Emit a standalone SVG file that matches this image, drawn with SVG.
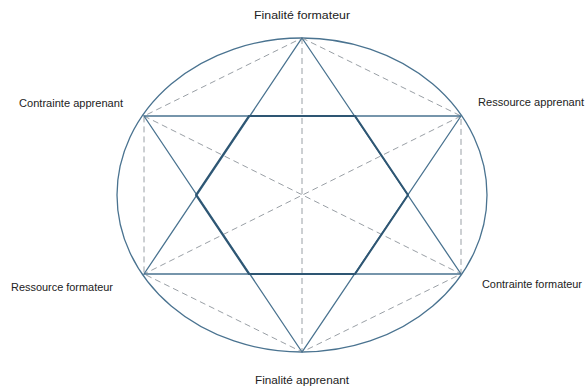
<svg xmlns="http://www.w3.org/2000/svg" width="585" height="392" viewBox="0 0 585 392">
<style>
.solid{fill:none;stroke:#4a7390;stroke-width:1.3}
.hex{fill:none;stroke:#2e5673;stroke-width:2}
.dash{fill:none;stroke:#9aa0a6;stroke-width:1;stroke-dasharray:6 4}
.lbl{font-family:"Liberation Sans","DejaVu Sans",sans-serif;font-size:10px;fill:#222}
</style>
<rect width="585" height="392" fill="#fff"/>
<g id="connectors">
<ellipse class="solid" cx="302" cy="195" rx="185" ry="157"/>
<polygon class="dash" points="302,38 461,116 461,274 302,352 144,274 144,116"/>
<line class="dash" x1="302" y1="38" x2="302" y2="352"/>
<line class="dash" x1="144" y1="116" x2="461" y2="274"/>
<line class="dash" x1="461" y1="116" x2="144" y2="274"/>
<polygon class="solid" points="302,38 461,274 144,274"/>
<polygon class="solid" points="302,352 144,116 461,116"/>
<polygon class="hex" points="249,116 355,116 408,195 355,274 249,274 196,195"/>
</g>
<g id="n-finalite-formateur"><text class="lbl" x="302" y="19" text-anchor="middle" textLength="96" lengthAdjust="spacingAndGlyphs">Finalité formateur</text></g>
<g id="n-contrainte-apprenant"><text class="lbl" x="19" y="107" textLength="104" lengthAdjust="spacingAndGlyphs">Contrainte apprenant</text></g>
<g id="n-ressource-apprenant"><text class="lbl" x="478" y="106" textLength="106" lengthAdjust="spacingAndGlyphs">Ressource apprenant</text></g>
<g id="n-ressource-formateur"><text class="lbl" x="11" y="291" textLength="102" lengthAdjust="spacingAndGlyphs">Ressource formateur</text></g>
<g id="n-contrainte-formateur"><text class="lbl" x="482" y="288" textLength="100" lengthAdjust="spacingAndGlyphs">Contrainte formateur</text></g>
<g id="n-finalite-apprenant"><text class="lbl" x="302" y="384" text-anchor="middle" textLength="94" lengthAdjust="spacingAndGlyphs">Finalité apprenant</text></g>
</svg>
